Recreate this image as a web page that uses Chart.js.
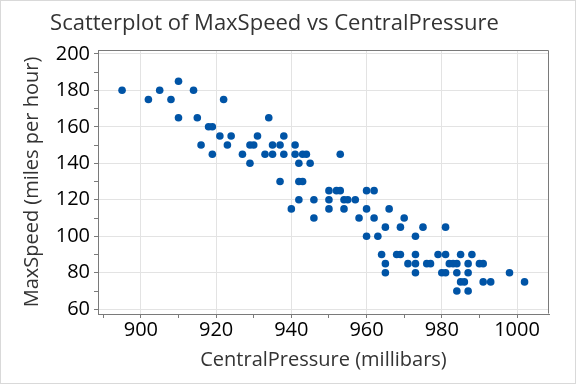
<!DOCTYPE html>
<html>
<head>
<meta charset="utf-8">
<script src="https://cdn.jsdelivr.net/npm/chart.js@4"></script>
<style>
html,body{margin:0;padding:0;background:#fff;}
#wrap{width:576px;height:384px;position:relative;}
</style>
</head>
<body>
<div id="wrap"><canvas id="c" width="576" height="384"></canvas></div>
<script>
const pressure = [895,902,905,908,910,910,914,915,922,918,919,921,924,916,923,919,927,929,929,934,
931,938,930,935,937,941,933,935,938,941,943,944,953,942,945,937,942,943,950,952,
953,960,962,942,946,950,954,955,957,940,950,954,960,966,946,958,962,970,965,969,
975,981,960,963,973,964,968,969,973,979,981,985,988,965,971,973,976,977,982,983,
984,987,990,991,965,973,980,981,984,987,998,985,986,991,993,1002,984,987];
const speed = [180,175,180,175,185,165,180,165,175,160,160,155,155,150,150,145,145,150,140,165,
155,155,150,150,150,150,145,145,145,145,145,145,145,140,140,130,130,130,125,125,
125,125,125,120,120,120,120,120,120,115,115,115,115,115,110,110,110,110,105,105,
105,105,100,100,100,90,90,90,90,90,90,90,90,85,85,85,85,85,85,85,
85,85,85,85,80,80,80,80,80,80,80,75,75,75,75,75,70,70];
const xTickLabels = [900,920,940,960,980,1000];
const yTickLabels = [60,80,100,120,140,160,180,200];

const points = pressure.map((p,i)=>({x:p,y:speed[i]}));
const FONT = "'Open Sans', 'Noto Sans', sans-serif";

const frame = {
  id:'frame',
  afterDraw(chart){
    const {ctx, chartArea:a} = chart;
    ctx.save();
    ctx.strokeStyle = '#7a7a7a';
    ctx.lineWidth = 1;
    ctx.beginPath();
    ctx.moveTo(Math.round(a.left)+0.5, Math.round(a.top)+0.5);
    ctx.lineTo(Math.round(a.right)-0.5, Math.round(a.top)+0.5);
    ctx.lineTo(Math.round(a.right)-0.5, Math.round(a.bottom)-0.5);
    ctx.stroke();
    ctx.strokeStyle = '#d9d9d9';
    ctx.strokeRect(0.5,0.5,575,383);
    ctx.restore();
  }
};

// minor ticks every 10 units between the axis bounds
const tensTicks = (scale)=>{
  const out = [];
  for (let v = Math.ceil(scale.min/10)*10; v <= scale.max; v += 10) out.push({value:v});
  scale.ticks = out;
};

new Chart(document.getElementById('c'), {
  type:'scatter',
  data:{datasets:[{
    data:points,
    backgroundColor:'#0054a6',
    borderWidth:0,
    pointRadius:3.8,
    pointHoverRadius:3.8
  }]},
  options:{
    responsive:false,
    animation:false,
    events:[],
    layout:{padding:{left:0,right:27,top:0,bottom:0}},
    plugins:{
      legend:{display:false},
      tooltip:{enabled:false},
      title:{
        display:true,
        text:'Scatterplot of MaxSpeed vs CentralPressure',
        color:'#333333',
        font:{family:FONT,size:22,weight:'normal'},
        padding:{top:11,bottom:12.6}
      }
    },
    scales:{
      x:{
        type:'linear',
        min:888.6, max:1008.5,
        afterBuildTicks:tensTicks,
        afterFit(s){ s.height = 70; },
        ticks:{
          color:'#000',
          font:{family:FONT,size:20},
          padding:0,
          maxRotation:0,
          autoSkip:false,
          callback:(v)=> xTickLabels.includes(v) ? String(v) : ''
        },
        grid:{
          color:(c)=> (c.tick && xTickLabels.includes(c.tick.value)) ? '#e3e3e3' : 'rgba(0,0,0,0)',
          tickColor:'#7a7a7a',
          tickLength:4,
          drawTicks:true
        },
        border:{display:true,color:'#7a7a7a'},
        title:{
          display:true,
          text:'CentralPressure (millibars)',
          color:'#333333',
          font:{family:FONT,size:20},
          padding:{top:0,bottom:12}
        }
      },
      y:{
        type:'linear',
        min:57.4, max:202.1,
        afterBuildTicks:tensTicks,
        afterFit(s){ s.width = 98; },
        ticks:{
          color:'#000',
          font:{family:FONT,size:20},
          padding:4,
          autoSkip:false,
          callback:(v)=> yTickLabels.includes(v) ? String(v) : ''
        },
        grid:{
          color:(c)=> (c.tick && yTickLabels.includes(c.tick.value)) ? '#e3e3e3' : 'rgba(0,0,0,0)',
          tickColor:'#7a7a7a',
          tickLength:4,
          drawTicks:true
        },
        border:{display:true,color:'#7a7a7a'},
        title:{
          display:true,
          text:'MaxSpeed (miles per hour)',
          color:'#333333',
          font:{family:FONT,size:20},
          padding:{top:20,bottom:0}
        }
      }
    }
  },
  plugins:[frame]
});
</script>
</body>
</html>
